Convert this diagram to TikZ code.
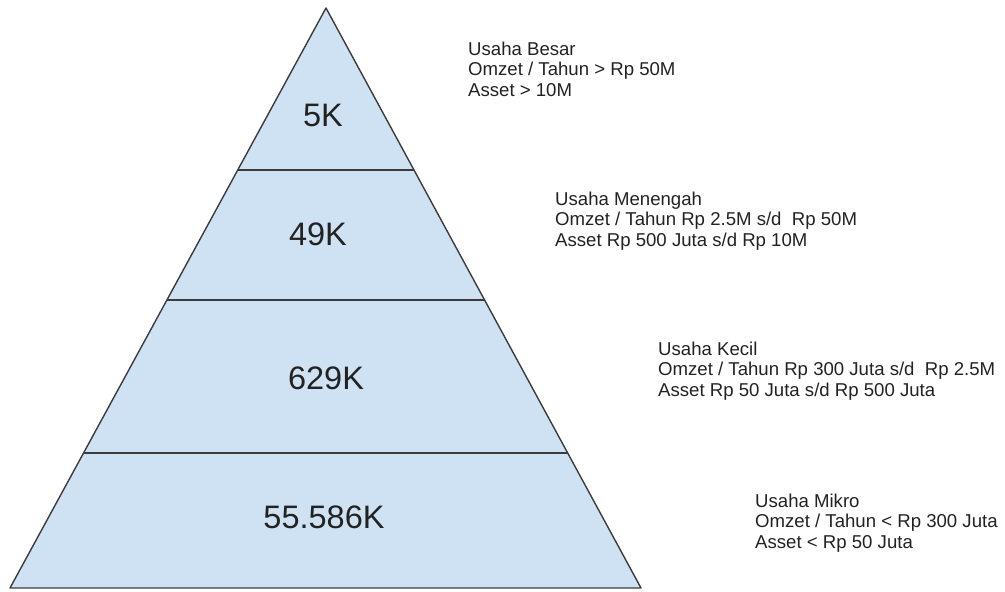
\documentclass[tikz,border=0pt]{standalone}
\usepackage{fontspec}
\setmainfont{Liberation Sans}
\usepackage{xcolor}
\usepackage{tikz}

\definecolor{tierblue}{HTML}{CFE2F3}
\definecolor{edgegray}{HTML}{3C3C3C}
\definecolor{textgray}{HTML}{222222}

\tikzset{
    count/.style={text=textgray, inner sep=0pt, anchor=base,
        font=\fontsize{32.5}{38}\selectfont},
    info/.style={text=textgray, inner sep=0pt, anchor=base west, align=left,
        font=\fontsize{18.6}{20.6}\selectfont}
}

\begin{document}
\begin{tikzpicture}[x=1pt,y=-1pt]
    \useasboundingbox (0,0) rectangle (1005,592);

    \coordinate (apex) at (326,8);
    \coordinate (bl) at (10,588);
    \coordinate (br) at (641,588);

    \fill[tierblue] (apex) -- (bl) -- (br) -- cycle;
    \draw[edgegray, line width=1.4pt, line join=round] (apex) -- (bl) -- (br) -- cycle;
    \draw[edgegray, line width=1.4pt] (237.7,170) -- (414,170);
    \draw[edgegray, line width=1.4pt] (166.9,300) -- (484.6,300);
    \draw[edgegray, line width=1.4pt] (83.6,453) -- (567.7,453);

    \node[count] (besar) at (323,126.7) {5K};
    \node[count] (menengah) at (318,245) {49K};
    \node[count] (kecil) at (326,389.5) {629K};
    \node[count] (mikro) at (324,528) {55.586K};

    % base anchor sits on the last line
    \node[info] (besarinfo) at (468,96.2) {Usaha Besar\\Omzet / Tahun > Rp 50M\\Asset > 10M};
    \node[info] (menengahinfo) at (555,246.2) {Usaha Menengah\\Omzet / Tahun Rp 2.5M s/d~ Rp 50M\\Asset Rp 500 Juta s/d Rp 10M};
    \node[info] (kecilinfo) at (658,396.2) {Usaha Kecil\\Omzet / Tahun Rp 300 Juta s/d~ Rp 2.5M\\Asset Rp 50 Juta s/d Rp 500 Juta};
    \node[info] (mikroinfo) at (755,548.2) {Usaha Mikro\\Omzet / Tahun < Rp 300 Juta\\Asset < Rp 50 Juta};

\end{tikzpicture}
\end{document}
